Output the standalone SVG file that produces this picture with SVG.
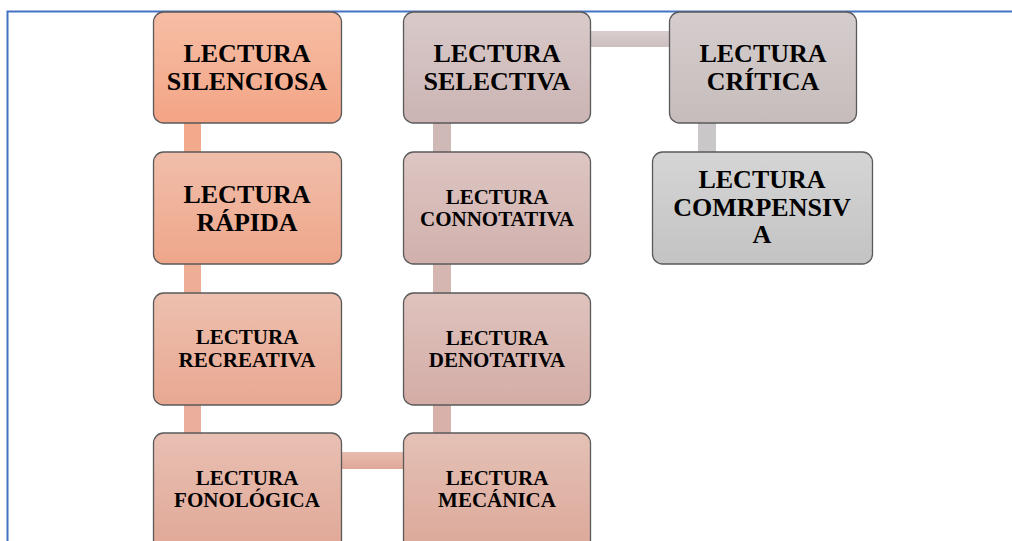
<svg xmlns="http://www.w3.org/2000/svg" width="1012" height="541" viewBox="0 0 1012 541">
<style>
.box{stroke:#5a5a5a;stroke-width:1.3}
.t{font-family:"Liberation Serif","Times New Roman",serif;font-weight:bold;fill:#000;text-anchor:middle}
.L{font-size:26px}
.S{font-size:21px}
</style>
<defs>
<linearGradient id="g1" x1="0" y1="0" x2="0" y2="1"><stop offset="0" stop-color="#F6BEA5"/><stop offset="1" stop-color="#F3A485"/></linearGradient>
<linearGradient id="g2" x1="0" y1="0" x2="0" y2="1"><stop offset="0" stop-color="#F1BEAA"/><stop offset="1" stop-color="#EEA68A"/></linearGradient>
<linearGradient id="g3" x1="0" y1="0" x2="0" y2="1"><stop offset="0" stop-color="#EDC0AF"/><stop offset="1" stop-color="#E8A891"/></linearGradient>
<linearGradient id="g4" x1="0" y1="0" x2="0" y2="1"><stop offset="0" stop-color="#E8C0B3"/><stop offset="1" stop-color="#E0A796"/></linearGradient>
<linearGradient id="g5" x1="0" y1="0" x2="0" y2="1"><stop offset="0" stop-color="#E4C1B6"/><stop offset="1" stop-color="#DCA899"/></linearGradient>
<linearGradient id="g6" x1="0" y1="0" x2="0" y2="1"><stop offset="0" stop-color="#DFC3BD"/><stop offset="1" stop-color="#D4ACA6"/></linearGradient>
<linearGradient id="g7" x1="0" y1="0" x2="0" y2="1"><stop offset="0" stop-color="#DDC6C3"/><stop offset="1" stop-color="#D1B0AC"/></linearGradient>
<linearGradient id="g8" x1="0" y1="0" x2="0" y2="1"><stop offset="0" stop-color="#D9CACA"/><stop offset="1" stop-color="#CBB4B3"/></linearGradient>
<linearGradient id="g9" x1="0" y1="0" x2="0" y2="1"><stop offset="0" stop-color="#D5CDCD"/><stop offset="1" stop-color="#C6BCBC"/></linearGradient>
<linearGradient id="g10" x1="0" y1="0" x2="0" y2="1"><stop offset="0" stop-color="#D5D5D5"/><stop offset="1" stop-color="#C3C3C3"/></linearGradient>
<linearGradient id="gh1" x1="0" y1="0" x2="0" y2="1"><stop offset="0" stop-color="#E9BCAF"/><stop offset="1" stop-color="#DFA898"/></linearGradient>
<linearGradient id="gh2" x1="0" y1="0" x2="0" y2="1"><stop offset="0" stop-color="#D9CDCD"/><stop offset="1" stop-color="#CCBFBF"/></linearGradient>
</defs>
<rect x="0" y="0" width="1012" height="541" fill="#fff"/>
<path d="M7.5 541 V11.5 H1012" fill="none" stroke="#4472C4" stroke-width="2"/>
<g id="connectors">
<rect x="184" y="122" width="17" height="31" fill="#F3A98B"/>
<rect x="184" y="263" width="17" height="31" fill="#EEAE95"/>
<rect x="184" y="404" width="17" height="30" fill="#EAAF9C"/>
<rect x="340" y="452" width="64" height="17" fill="url(#gh1)"/>
<rect x="433" y="404" width="18" height="30" fill="#D8B2AA"/>
<rect x="433" y="263" width="18" height="31" fill="#D5B6B1"/>
<rect x="433" y="122" width="18" height="31" fill="#CFB9B7"/>
<rect x="590" y="31" width="80" height="16" fill="url(#gh2)"/>
<rect x="698" y="122" width="18" height="31" fill="#C9C7C7"/>
</g>
<g id="n1"><rect class="box" x="153.5" y="12" width="188" height="111" rx="10" fill="url(#g1)"/><text class="t L" x="247" y="62">LECTURA</text><text class="t L" x="247" y="90">SILENCIOSA</text></g>
<g id="n2"><rect class="box" x="153.5" y="152" width="188" height="112" rx="10" fill="url(#g2)"/><text class="t L" x="247" y="203">LECTURA</text><text class="t L" x="247" y="231">RÁPIDA</text></g>
<g id="n3"><rect class="box" x="153.5" y="293" width="188" height="112" rx="10" fill="url(#g3)"/><text class="t S" x="247" y="344">LECTURA</text><text class="t S" x="247" y="367">RECREATIVA</text></g>
<g id="n4"><rect class="box" x="153.5" y="433" width="188" height="120" rx="10" fill="url(#g4)"/><text class="t S" x="247" y="485">LECTURA</text><text class="t S" x="247" y="507">FONOLÓGICA</text></g>
<g id="n5"><rect class="box" x="403.5" y="433" width="187" height="120" rx="10" fill="url(#g5)"/><text class="t S" x="497" y="485">LECTURA</text><text class="t S" x="497" y="507">MECÁNICA</text></g>
<g id="n6"><rect class="box" x="403.5" y="293" width="187" height="112" rx="10" fill="url(#g6)"/><text class="t S" x="497" y="345">LECTURA</text><text class="t S" x="497" y="367">DENOTATIVA</text></g>
<g id="n7"><rect class="box" x="403.5" y="152" width="187" height="112" rx="10" fill="url(#g7)"/><text class="t S" x="497" y="204">LECTURA</text><text class="t S" x="497" y="226">CONNOTATIVA</text></g>
<g id="n8"><rect class="box" x="403.5" y="12" width="187" height="111" rx="10" fill="url(#g8)"/><text class="t L" x="497" y="62">LECTURA</text><text class="t L" x="497" y="90">SELECTIVA</text></g>
<g id="n9"><rect class="box" x="669.5" y="12" width="187" height="111" rx="10" fill="url(#g9)"/><text class="t L" x="763" y="62">LECTURA</text><text class="t L" x="763" y="90">CRÍTICA</text></g>
<g id="n10"><rect class="box" x="652.5" y="152" width="220" height="112" rx="10" fill="url(#g10)"/><text class="t L" x="762" y="188">LECTURA</text><text class="t L" x="762" y="216">COMRPENSIV</text><text class="t L" x="762" y="243">A</text></g>
</svg>
